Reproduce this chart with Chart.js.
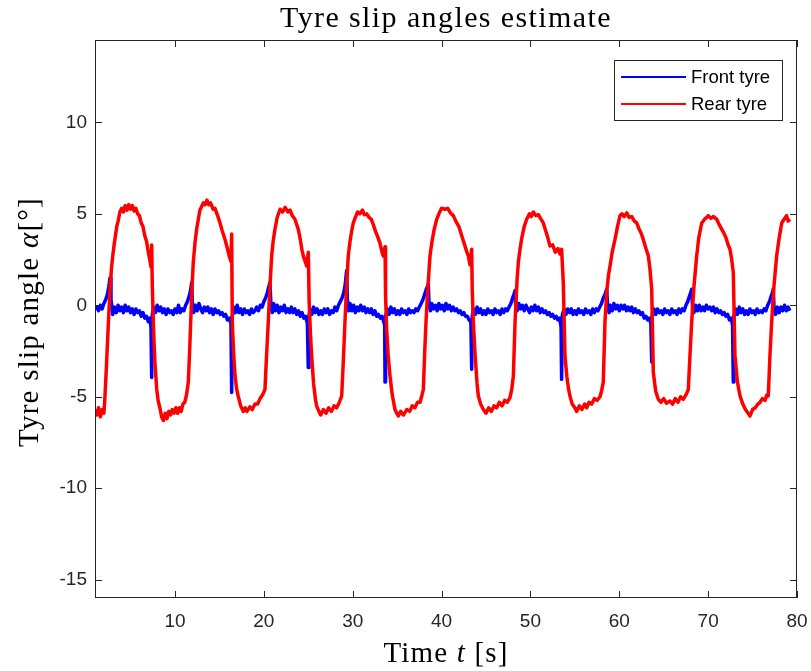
<!DOCTYPE html>
<html>
<head>
<meta charset="utf-8">
<script src="https://cdn.jsdelivr.net/npm/chart.js@4.4.1/dist/chart.umd.min.js"></script>
<style>
  html, body { margin: 0; padding: 0; background: #fff; }
  canvas { display: block; }
</style>
</head>
<body>
<canvas id="slipChart" width="811" height="671"></canvas>
<script>
// data: [time s, slip angle deg]
const seriesNames = ['Front tyre', 'Rear tyre'];
const xTicks = [10, 20, 30, 40, 50, 60, 70, 80];
const yTicks = [-15, -10, -5, 0, 5, 10];

const frontTyre = [
  [1.0,-0.2],[1.2,-0.1],[1.4,-0.3],[1.6,0.0],[1.8,-0.2],[2.0,0.1],[2.2,0.3],[2.4,0.6],[2.55,1.0],[2.69,1.5],
  [2.8,0.3],[3.0,-0.5],[3.2,-0.1],[3.4,-0.4],[3.6,0.0],[3.8,-0.3],[4.0,-0.1],[4.2,-0.4],[4.4,0.0],[4.6,-0.3],
  [4.8,-0.1],[5.0,-0.4],[5.2,-0.2],[5.4,-0.5],[5.6,-0.2],[5.8,-0.4],[6.0,-0.3],[6.2,-0.6],[6.4,-0.4],[6.6,-0.7],
  [6.8,-0.6],[7.0,-0.9],[7.2,-0.7],[7.3,-1.2],[7.38,-3.95],[7.45,-0.5],[7.6,-0.1],[7.8,-0.4],[8.0,0.0],[8.2,-0.3],
  [8.4,-0.1],[8.6,-0.4],[8.8,-0.2],[9.0,-0.5],[9.2,-0.2],[9.4,-0.4],[9.6,-0.3],[9.8,-0.5],[10.0,-0.2],[10.2,-0.4],
  [10.4,0.0],[10.6,-0.4],[10.8,-0.2],[11.0,-0.3],[11.2,0.0],[11.4,0.2],[11.6,0.5],[11.75,0.8],[11.88,1.24],[11.95,0.2],
  [12.1,-0.4],[12.3,0.0],[12.5,-0.3],[12.7,0.1],[12.9,-0.2],[13.1,-0.4],[13.3,-0.1],[13.5,-0.3],[13.7,-0.1],[13.9,-0.4],
  [14.1,-0.2],[14.3,-0.5],[14.5,-0.2],[14.7,-0.4],[14.9,-0.3],[15.1,-0.5],[15.3,-0.4],[15.5,-0.6],[15.7,-0.5],[15.9,-0.8],
  [16.1,-0.7],[16.3,-1.0],[16.38,-4.77],[16.45,-0.6],[16.6,-0.1],[16.8,-0.4],[17.0,0.0],[17.2,-0.4],[17.4,-0.2],[17.6,-0.5],
  [17.8,-0.2],[18.0,-0.4],[18.2,-0.3],[18.4,-0.5],[18.6,-0.2],[18.8,-0.4],[19.0,-0.3],[19.2,-0.1],[19.4,-0.3],[19.6,0.0],
  [19.8,-0.1],[20.0,0.2],[20.2,0.4],[20.4,0.7],[20.55,1.0],[20.69,1.24],[20.8,0.0],[20.95,-0.4],[21.1,0.1],[21.3,-0.3],
  [21.5,0.0],[21.7,-0.4],[21.9,-0.1],[22.1,-0.3],[22.3,0.0],[22.5,-0.4],[22.7,-0.2],[22.9,-0.4],[23.1,-0.1],[23.3,-0.4],
  [23.5,-0.2],[23.7,-0.5],[23.9,-0.3],[24.1,-0.6],[24.3,-0.4],[24.5,-0.7],[24.7,-0.6],[24.9,-1.0],[25.0,-3.4],[25.08,-0.6],
  [25.2,-0.2],[25.4,-0.5],[25.6,-0.1],[25.8,-0.4],[26.0,-0.2],[26.2,-0.5],[26.4,-0.3],[26.6,-0.5],[26.8,-0.2],[27.0,-0.4],
  [27.2,-0.2],[27.4,-0.5],[27.6,-0.3],[27.8,-0.4],[28.0,-0.1],[28.2,-0.3],[28.4,0.0],[28.6,0.2],[28.8,0.4],[29.0,0.7],
  [29.15,1.1],[29.32,1.9],[29.4,0.3],[29.55,-0.3],[29.7,0.1],[29.9,-0.3],[30.1,0.0],[30.3,-0.4],[30.5,-0.1],[30.7,-0.3],
  [30.9,0.0],[31.1,-0.3],[31.3,-0.1],[31.5,-0.4],[31.7,-0.2],[31.9,-0.4],[32.1,-0.2],[32.3,-0.5],[32.5,-0.3],[32.7,-0.6],
  [32.9,-0.5],[33.1,-0.7],[33.3,-0.6],[33.5,-0.9],[33.6,-1.1],[33.64,-4.2],[33.7,-0.6],[33.9,-0.2],[34.1,-0.5],[34.3,-0.1],
  [34.5,-0.4],[34.7,-0.2],[34.9,-0.5],[35.1,-0.3],[35.3,-0.5],[35.5,-0.2],[35.7,-0.4],[35.9,-0.3],[36.1,-0.5],[36.3,-0.2],
  [36.5,-0.4],[36.7,-0.3],[36.9,-0.4],[37.1,-0.2],[37.3,-0.3],[37.5,-0.1],[37.7,0.1],[37.9,0.3],[38.1,0.6],[38.3,0.9],
  [38.51,1.15],[38.6,0.0],[38.75,-0.3],[38.9,0.1],[39.1,-0.2],[39.3,0.0],[39.5,-0.3],[39.7,0.1],[39.9,-0.2],[40.1,0.0],
  [40.3,-0.3],[40.5,0.1],[40.7,-0.2],[40.9,0.0],[41.1,-0.3],[41.3,-0.1],[41.5,-0.3],[41.7,-0.2],[41.9,-0.4],[42.1,-0.3],
  [42.3,-0.5],[42.5,-0.4],[42.7,-0.6],[42.9,-0.6],[43.1,-0.8],[43.3,-0.9],[43.39,-3.5],[43.45,-0.6],[43.6,-0.2],[43.8,-0.5],
  [44.0,-0.1],[44.2,-0.4],[44.4,-0.2],[44.6,-0.5],[44.8,-0.3],[45.0,-0.5],[45.2,-0.2],[45.4,-0.4],[45.6,-0.3],[45.8,-0.5],
  [46.0,-0.2],[46.2,-0.4],[46.4,-0.3],[46.6,-0.5],[46.8,-0.2],[47.0,-0.4],[47.2,-0.2],[47.4,-0.3],[47.6,-0.1],[47.8,0.1],
  [48.0,0.4],[48.15,0.6],[48.27,0.8],[48.35,-0.1],[48.5,-0.3],[48.7,0.1],[48.9,-0.2],[49.1,0.0],[49.3,-0.3],[49.5,0.0],
  [49.7,-0.2],[49.9,-0.4],[50.1,-0.1],[50.3,-0.3],[50.5,0.0],[50.7,-0.3],[50.9,-0.1],[51.1,-0.4],[51.3,-0.2],[51.5,-0.4],
  [51.7,-0.3],[51.9,-0.5],[52.1,-0.4],[52.3,-0.6],[52.5,-0.5],[52.7,-0.7],[52.9,-0.6],[53.1,-0.8],[53.3,-0.7],[53.45,-1.2],
  [53.51,-4.05],[53.6,-0.5],[53.8,-0.2],[54.0,-0.5],[54.2,-0.2],[54.4,-0.4],[54.6,-0.2],[54.8,-0.5],[55.0,-0.3],[55.2,-0.5],
  [55.4,-0.2],[55.6,-0.4],[55.8,-0.3],[56.0,-0.5],[56.2,-0.2],[56.4,-0.4],[56.6,-0.3],[56.8,-0.5],[57.0,-0.2],[57.2,-0.4],
  [57.4,-0.2],[57.6,-0.3],[57.8,-0.1],[58.0,0.1],[58.2,0.4],[58.4,0.6],[58.58,0.88],[58.7,-0.1],[58.85,-0.4],[59.0,0.0],
  [59.2,-0.3],[59.4,0.1],[59.6,-0.2],[59.8,0.0],[60.0,-0.3],[60.2,0.0],[60.4,-0.2],[60.6,0.0],[60.8,-0.3],[61.0,-0.1],
  [61.2,-0.3],[61.4,-0.1],[61.6,-0.4],[61.8,-0.2],[62.0,-0.4],[62.2,-0.3],[62.4,-0.5],[62.6,-0.4],[62.8,-0.7],[63.0,-0.6],
  [63.2,-0.8],[63.4,-0.7],[63.55,-1.0],[63.65,-3.1],[63.72,-0.5],[63.9,-0.2],[64.1,-0.5],[64.3,-0.2],[64.5,-0.4],[64.7,-0.3],
  [64.9,-0.5],[65.1,-0.2],[65.3,-0.4],[65.5,-0.3],[65.7,-0.5],[65.9,-0.2],[66.1,-0.4],[66.3,-0.3],[66.5,-0.5],[66.7,-0.2],
  [66.9,-0.4],[67.1,-0.2],[67.3,-0.3],[67.5,0.0],[67.7,0.2],[67.9,0.5],[68.05,0.7],[68.15,0.88],[68.25,-0.2],[68.4,-0.4],
  [68.6,0.0],[68.8,-0.3],[69.0,0.0],[69.2,-0.3],[69.4,-0.1],[69.6,-0.3],[69.8,0.0],[70.0,-0.2],[70.2,-0.1],[70.4,-0.3],
  [70.6,-0.1],[70.8,-0.4],[71.0,-0.2],[71.2,-0.4],[71.4,-0.3],[71.6,-0.5],[71.8,-0.4],[72.0,-0.6],[72.2,-0.5],[72.4,-0.8],
  [72.6,-0.7],[72.75,-1.1],[72.83,-4.2],[72.9,-0.6],[73.1,-0.2],[73.3,-0.5],[73.5,-0.1],[73.7,-0.4],[73.9,-0.2],[74.1,-0.5],
  [74.3,-0.3],[74.5,-0.5],[74.7,-0.2],[74.9,-0.4],[75.1,-0.3],[75.3,-0.5],[75.5,-0.2],[75.7,-0.4],[75.9,-0.3],[76.1,-0.4],
  [76.3,-0.2],[76.5,-0.3],[76.7,0.0],[76.9,0.2],[77.1,0.5],[77.25,0.7],[77.33,0.9],[77.42,-0.2],[77.6,-0.5],[77.8,-0.1],
  [78.0,-0.4],[78.2,-0.1],[78.4,-0.3],[78.6,0.0],[78.8,-0.3],[79.0,-0.1],[79.2,-0.3]
];

const rearTyre = [
  [1.0,-5.7],[1.2,-6.0],[1.4,-5.6],[1.6,-6.1],[1.8,-5.7],[2.0,-5.9],[2.1,-5.2],[2.3,-3.2],[2.5,-1.0],[2.7,0.9],
  [2.85,2.0],[3.0,2.7],[3.15,3.3],[3.3,3.8],[3.45,4.3],[3.6,4.6],[3.8,5.1],[4.0,5.3],[4.2,5.1],[4.4,5.45],
  [4.6,5.2],[4.8,5.5],[5.0,5.25],[5.2,5.45],[5.4,5.15],[5.6,5.3],[5.8,5.0],[6.0,4.9],[6.2,4.5],[6.4,4.3],
  [6.6,3.8],[6.8,3.5],[7.0,2.9],[7.2,2.4],[7.3,2.1],[7.38,3.3],[7.45,1.0],[7.6,-1.5],[7.75,-3.2],[7.95,-4.6],
  [8.1,-5.2],[8.3,-5.6],[8.5,-6.1],[8.7,-6.3],[8.9,-5.9],[9.1,-6.2],[9.3,-5.8],[9.5,-6.0],[9.7,-5.7],[9.9,-5.9],
  [10.1,-5.6],[10.3,-5.9],[10.5,-5.6],[10.7,-5.8],[10.9,-5.4],[11.1,-5.3],[11.3,-4.9],[11.5,-4.2],[11.65,-2.5],[11.77,-0.9],
  [11.9,0.8],[12.06,2.35],[12.25,3.4],[12.45,4.2],[12.63,4.7],[12.8,5.2],[13.0,5.4],[13.2,5.6],[13.4,5.5],[13.6,5.75],
  [13.8,5.5],[14.0,5.6],[14.3,5.25],[14.5,5.3],[14.8,4.9],[15.07,4.5],[15.3,4.1],[15.63,3.6],[15.9,3.1],[16.1,2.7],
  [16.3,2.4],[16.38,3.9],[16.45,-0.9],[16.6,-2.6],[16.76,-3.87],[16.95,-4.6],[17.13,-5.0],[17.4,-5.5],[17.69,-5.8],[17.9,-5.6],
  [18.1,-5.8],[18.44,-5.55],[18.7,-5.7],[19.0,-5.4],[19.3,-5.4],[19.57,-5.1],[19.85,-4.9],[20.13,-4.6],[20.3,-2.8],[20.5,-0.9],
  [20.7,1.1],[20.88,2.7],[21.05,3.5],[21.25,4.15],[21.5,4.8],[21.82,5.25],[22.1,5.1],[22.4,5.35],[22.7,5.1],[22.95,5.2],
  [23.2,4.9],[23.5,4.7],[23.88,4.15],[24.1,3.6],[24.3,3.0],[24.44,2.7],[24.65,2.4],[24.82,2.15],[25.0,2.9],[25.1,0.2],
  [25.25,-1.6],[25.38,-2.77],[25.6,-4.3],[25.8,-5.1],[25.94,-5.5],[26.2,-5.8],[26.4,-6.0],[26.7,-5.7],[27.0,-5.9],[27.3,-5.6],
  [27.6,-5.8],[27.9,-5.5],[28.2,-5.6],[28.5,-5.3],[28.76,-4.96],[28.95,-3.0],[29.13,-0.9],[29.3,0.9],[29.5,2.7],[29.7,3.5],
  [29.9,4.1],[30.07,4.5],[30.3,4.8],[30.55,5.1],[30.82,5.0],[31.1,5.2],[31.3,4.95],[31.57,5.0],[31.85,4.8],[32.1,4.7],
  [32.32,4.4],[32.6,4.0],[32.85,3.7],[33.07,3.4],[33.3,2.9],[33.44,2.7],[33.64,3.2],[33.7,0.5],[33.82,-1.3],[34.0,-2.8],
  [34.2,-3.87],[34.45,-4.9],[34.76,-5.7],[34.95,-5.9],[35.13,-6.05],[35.4,-5.8],[35.7,-6.0],[36.08,-5.7],[36.4,-5.8],[36.7,-5.5],
  [37.0,-5.6],[37.3,-5.3],[37.58,-5.3],[37.8,-4.9],[37.95,-4.6],[38.1,-2.6],[38.25,-0.9],[38.45,0.9],[38.7,2.7],[38.9,3.4],
  [39.15,4.1],[39.45,4.7],[39.7,5.0],[40.0,5.3],[40.39,5.25],[40.7,5.3],[41.0,5.05],[41.32,4.9],[41.6,4.6],[41.95,4.3],
  [42.27,3.8],[42.6,3.3],[42.85,2.9],[43.01,2.7],[43.2,2.2],[43.39,3.06],[43.45,0.9],[43.57,-0.9],[43.8,-2.9],[44.0,-4.3],
  [44.14,-4.96],[44.4,-5.4],[44.7,-5.7],[45.0,-5.9],[45.3,-5.6],[45.6,-5.8],[45.9,-5.5],[46.2,-5.6],[46.5,-5.3],[46.8,-5.5],
  [47.1,-5.2],[47.4,-5.3],[47.7,-5.05],[47.9,-4.6],[48.08,-3.87],[48.27,-0.9],[48.5,1.4],[48.65,2.4],[48.83,3.06],[49.0,3.6],
  [49.3,4.3],[49.58,4.7],[49.9,5.0],[50.1,4.85],[50.33,5.1],[50.6,4.9],[50.9,4.95],[51.2,4.7],[51.45,4.5],[51.7,4.1],
  [51.95,3.7],[52.2,3.24],[52.5,3.3],[52.8,2.9],[53.1,3.1],[53.33,2.8],[53.51,3.06],[53.7,1.24],[53.89,-2.77],[54.1,-3.9],
  [54.3,-4.6],[54.45,-4.96],[54.7,-5.4],[55.0,-5.6],[55.2,-5.8],[55.5,-5.5],[55.8,-5.7],[56.1,-5.4],[56.33,-5.6],[56.6,-5.3],
  [56.9,-5.4],[57.2,-5.1],[57.5,-5.2],[57.83,-5.0],[58.0,-4.7],[58.2,-4.2],[58.39,-0.9],[58.6,0.8],[58.8,1.7],[58.96,2.15],
  [59.2,2.9],[59.52,3.6],[59.8,4.3],[60.08,4.9],[60.3,5.0],[60.55,4.85],[60.84,5.05],[61.1,4.8],[61.4,4.85],[61.7,4.6],
  [61.96,4.5],[62.2,4.2],[62.45,3.95],[62.7,3.6],[63.0,3.1],[63.27,2.7],[63.45,2.0],[63.65,0.88],[63.83,-3.67],[64.1,-4.7],
  [64.39,-5.14],[64.7,-5.3],[65.0,-5.1],[65.3,-5.35],[65.7,-5.23],[66.0,-5.4],[66.3,-5.1],[66.6,-5.3],[66.9,-5.0],[67.2,-5.14],
  [67.5,-4.9],[67.77,-4.6],[67.95,-2.8],[68.15,-0.9],[68.4,1.0],[68.71,2.7],[68.95,3.7],[69.28,4.5],[69.6,4.7],[70.02,4.9],
  [70.3,4.75],[70.6,4.85],[70.97,4.7],[71.3,4.35],[71.71,4.0],[72.0,3.7],[72.25,3.3],[72.46,3.06],[72.65,2.5],[72.83,1.8],
  [73.02,-2.77],[73.3,-4.2],[73.59,-4.96],[73.9,-5.4],[74.2,-5.7],[74.5,-5.9],[74.71,-6.05],[75.0,-5.7],[75.3,-5.6],[75.6,-5.4],
  [75.84,-5.3],[76.1,-5.1],[76.4,-5.2],[76.6,-4.9],[76.77,-4.96],[76.95,-2.8],[77.15,-0.9],[77.4,1.0],[77.71,2.7],[78.0,3.7],
  [78.28,4.5],[78.55,4.7],[78.83,4.9],[79.0,4.6],[79.21,4.7]
];

const toPoints = arr => arr.map(p => ({ x: p[0], y: p[1] }));
const axisColor = '#262626';

// draws text runs (some italic) centred at cx, stretched a bit to a target width
function drawRuns(ctx, runs, cx, cy, size, target) {
  let w0 = 0, n = 0;
  ctx.letterSpacing = '0px';
  runs.forEach(r => {
    ctx.font = (r.italic ? 'italic ' : '') + size + 'px "Liberation Serif"';
    r.w = ctx.measureText(r.text).width;
    w0 += r.w;
    n += r.text.length;
  });
  const sp = Math.max(0, (target - w0) / n);
  let x = cx - (w0 + sp * n) / 2;
  ctx.textAlign = 'left';
  ctx.textBaseline = 'middle';
  runs.forEach(r => {
    ctx.font = (r.italic ? 'italic ' : '') + size + 'px "Liberation Serif"';
    ctx.letterSpacing = sp + 'px';
    ctx.fillText(r.text, x, cy);
    x += r.w + sp * r.text.length;
  });
  ctx.letterSpacing = '0px';
}

const matlabFrame = {
  id: 'matlabFrame',
  afterDatasetsDraw(chart) {
    const { ctx, chartArea: a, scales: { x, y } } = chart;
    ctx.save();
    ctx.strokeStyle = axisColor;
    ctx.lineWidth = 1;
    ctx.strokeRect(a.left + 0.5, a.top + 0.5, a.right - a.left - 1, a.bottom - a.top - 1);
    ctx.beginPath();
    xTicks.forEach(v => {
      const px = Math.round(x.getPixelForValue(v)) + 0.5;
      ctx.moveTo(px, a.bottom); ctx.lineTo(px, a.bottom - 7);
      ctx.moveTo(px, a.top); ctx.lineTo(px, a.top + 7);
    });
    yTicks.forEach(v => {
      const py = Math.round(y.getPixelForValue(v)) + 0.5;
      ctx.moveTo(a.left, py); ctx.lineTo(a.left + 7, py);
      ctx.moveTo(a.right, py); ctx.lineTo(a.right - 7, py);
    });
    ctx.stroke();

    // legend box, top right inside the axes
    const lx = a.right - 183, ly = a.top + 20, lw = 168, lh = 60;
    ctx.fillStyle = '#fff';
    ctx.fillRect(lx, ly, lw, lh);
    ctx.strokeRect(lx + 0.5, ly + 0.5, lw, lh);
    chart.data.datasets.forEach((ds, i) => {
      const yy = ly + 17 + i * 27;
      ctx.strokeStyle = ds.borderColor;
      ctx.lineWidth = 2;
      ctx.beginPath();
      ctx.moveTo(lx + 7, yy); ctx.lineTo(lx + 72, yy);
      ctx.stroke();
      ctx.fillStyle = '#000';
      ctx.font = '18.5px "Liberation Sans", Arial, sans-serif';
      ctx.textAlign = 'left';
      ctx.textBaseline = 'middle';
      ctx.fillText(ds.label, lx + 77, yy + 1);
    });

    // titles
    ctx.fillStyle = '#000';
    const cx = (a.left + a.right) / 2;
    drawRuns(ctx, [{ text: 'Tyre slip angles estimate' }], cx, 19, 30, 332);
    drawRuns(ctx, [{ text: 'Time ' }, { text: 't', italic: true }, { text: ' [s]' }], cx, 654, 29, 125);
    ctx.save();
    ctx.translate(30, (a.top + a.bottom) / 2 + 3);
    ctx.rotate(-Math.PI / 2);
    drawRuns(ctx, [{ text: 'Tyre slip angle ' }, { text: 'α', italic: true }, { text: '[°]' }], 0, 0, 29, 250);
    ctx.restore();
    ctx.restore();
  }
};

const tickFont = { family: '"Liberation Sans", Arial, sans-serif', size: 19 };

new Chart(document.getElementById('slipChart'), {
  type: 'line',
  data: {
    datasets: [
      { label: seriesNames[0], data: toPoints(frontTyre), borderColor: '#0000ff', borderWidth: 3.5, order: 1 },
      { label: seriesNames[1], data: toPoints(rearTyre), borderColor: '#ff0000', borderWidth: 3.5, order: 0 }
    ]
  },
  options: {
    responsive: false,
    animation: false,
    devicePixelRatio: 1,
    layout: { padding: { top: 40, right: 14, left: 0, bottom: 0 } },
    elements: { point: { radius: 0 }, line: { tension: 0, borderJoinStyle: 'round' } },
    plugins: { legend: { display: false }, title: { display: false }, tooltip: { enabled: false } },
    scales: {
      x: {
        type: 'linear', min: 1, max: 80,
        afterBuildTicks: s => { s.ticks = xTicks.map(v => ({ value: v })); },
        afterFit: s => { s.height = 73; s.paddingLeft = 0; s.paddingRight = 0; },
        grid: { display: false, drawTicks: false },
        border: { display: false },
        ticks: { padding: 12, color: axisColor, font: tickFont, maxRotation: 0, autoSkip: false }
      },
      y: {
        type: 'linear', min: -16, max: 14.5,
        afterBuildTicks: s => { s.ticks = yTicks.map(v => ({ value: v })); },
        afterFit: s => { s.width = 95; s.paddingTop = 0; s.paddingBottom = 0; },
        grid: { display: false, drawTicks: false },
        border: { display: false },
        ticks: { padding: 8, color: axisColor, font: tickFont, autoSkip: false }
      }
    }
  },
  plugins: [matlabFrame]
});
</script>
</body>
</html>
